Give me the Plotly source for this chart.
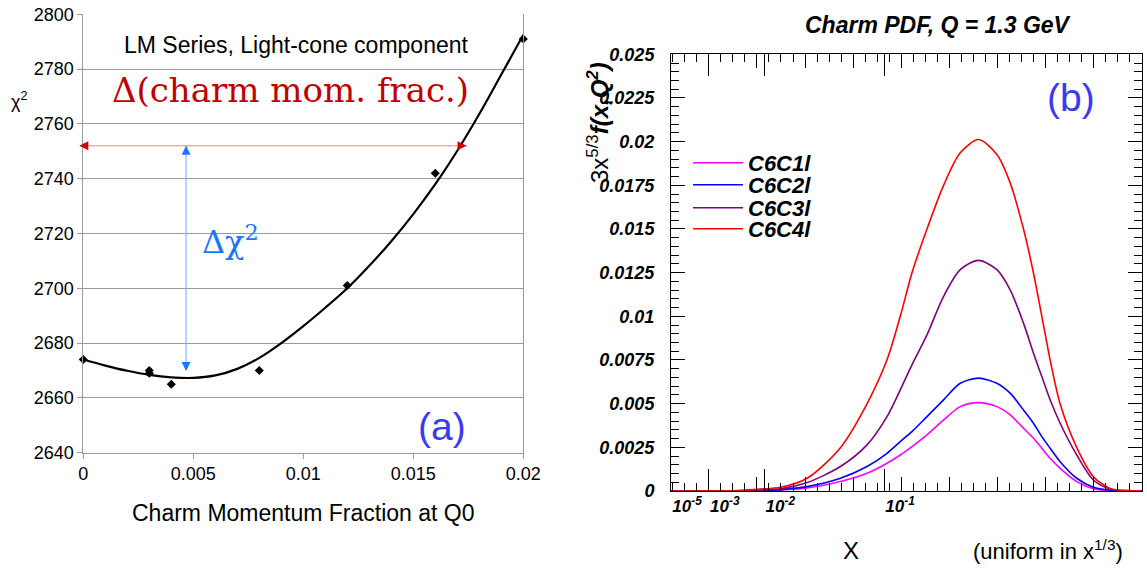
import plotly.graph_objects as go

# ---------------- Panel (a) data ----------------
frac_pts = [0.0, 0.003, 0.003, 0.004, 0.008, 0.012, 0.016, 0.02]
chi2_pts = [2674, 2670, 2669, 2665, 2670, 2701, 2742, 2791]

frac_fit = [0.0, 0.001, 0.002, 0.003, 0.004, 0.005, 0.006, 0.007, 0.008, 0.009, 0.010,
            0.011, 0.012, 0.013, 0.014, 0.015, 0.016, 0.017, 0.018, 0.019, 0.020]
chi2_fit = [2674.0, 2671.8, 2669.9, 2668.4, 2667.5, 2667.3, 2668.2, 2670.6, 2674.6, 2680.0, 2686.2,
            2692.9, 2700.0, 2708.2, 2717.2, 2727.1, 2738.0, 2750.2, 2763.6, 2778.0, 2792.5]

x_ticks_a = [0, 0.005, 0.01, 0.015, 0.02]
x_ticktext_a = ["0", "0.005", "0.01", "0.015", "0.02"]

chi2_level = 2752          # level of the horizontal double arrow
chi2_low = 2669.8          # lower end of the vertical double arrow
frac_arrow_left = -0.0002
frac_arrow_right = 0.01742
frac_vert_arrow = 0.00467

# ---------------- Panel (b) data ----------------
x_pdf = [1e-5, 1e-3, 0.004, 0.00893, 0.0154, 0.0282, 0.0521, 0.0788, 0.104, 0.1234, 0.1423,
         0.1694, 0.2031, 0.2411, 0.2880, 0.3408, 0.3828, 0.4283, 0.4647, 0.4966, 0.5297,
         0.5716, 0.6461, 0.7266, 0.8137, 0.9076, 1.0]
c6c1l = [0, 0, 0, 0.00002, 0.00006, 0.00017, 0.00054, 0.00101, 0.00159, 0.00206, 0.00254,
         0.00321, 0.00407, 0.00483, 0.00506, 0.00483, 0.00436, 0.00359, 0.00302, 0.00245, 0.00187,
         0.0013, 0.00054, 0.00013, 0.00002, 0, 0]
c6c2l = [0, 0, 0, 0.00004, 0.00008, 0.00025, 0.00073, 0.0014, 0.00216, 0.00283, 0.0034,
         0.00426, 0.00522, 0.00617, 0.00646, 0.00617, 0.0056, 0.00464, 0.00388, 0.00311, 0.00245,
         0.00168, 0.00073, 0.00021, 0.00004, 0, 0]
c6c3l = [0, 0, 0.00001, 0.00006, 0.00013, 0.00048, 0.0014, 0.00264, 0.00426, 0.00579, 0.00722,
         0.00894, 0.01114, 0.01267, 0.0132, 0.01267, 0.01152, 0.00961, 0.00789, 0.00655, 0.00522,
         0.00388, 0.00206, 0.00063, 0.00011, 0.00002, 0]
c6c4l = [0, 0, 0.00003, 0.00011, 0.00021, 0.00073, 0.00248, 0.00499, 0.00751, 0.0100, 0.01248,
         0.0150, 0.0175, 0.01936, 0.02012, 0.01926, 0.01764, 0.0150, 0.01248, 0.0100, 0.00751,
         0.00499, 0.00248, 0.00082, 0.00015, 0.00002, 0]
series_names = ["C6C1l", "C6C2l", "C6C3l", "C6C4l"]
series_colors = ["#ff00ff", "#0000ff", "#800080", "#ff0000"]

x_decades = [1e-5, 1e-3, 1e-2, 1e-1, 1.0]
x_decade_text = ["10<sup>-5</sup>", "10<sup>-3</sup>", "10<sup>-2</sup>", "10<sup>-1</sup>", "1"]

# axis is uniform in x^(1/3)
def cube_root(v):
    return [t ** (1.0 / 3.0) for t in v]

W, H = 1147, 569
SANS = "Liberation Sans, Arial, sans-serif"
SERIF = "DejaVu Serif, serif"
BLUE_LBL = "#3a3af2"

def px(x):
    return x / W

def py(y):
    return 1 - y / H

fig = go.Figure()

# panel (a)
fig.add_trace(go.Scatter(x=frac_fit, y=chi2_fit, mode="lines", line=dict(color="black", width=2.2, shape="spline"),
                         xaxis="x", yaxis="y", showlegend=False, hoverinfo="skip"))
fig.add_trace(go.Scatter(x=frac_pts, y=chi2_pts, mode="markers",
                         marker=dict(symbol="diamond", size=7, color="black"),
                         xaxis="x", yaxis="y", showlegend=False, cliponaxis=False))

# panel (b)
u_pdf = cube_root(x_pdf)
legends = ["legend", "legend2", "legend3", "legend4"]
for name, vals, col, lg in zip(series_names, [c6c1l, c6c2l, c6c3l, c6c4l], series_colors, legends):
    fig.add_trace(go.Scatter(x=u_pdf, y=vals, mode="lines", name=name,
                             line=dict(color=col, width=1.6, shape="spline", smoothing=0.8),
                             xaxis="x2", yaxis="y2", legend=lg, showlegend=True))

u_lo = (1e-5) ** (1.0 / 3.0)

legend_py = [163, 185, 208, 229]
leg_common = dict(x=px(688), xanchor="left", yanchor="middle", bgcolor="rgba(0,0,0,0)",
                  borderwidth=0, itemwidth=50,
                  font=dict(family=SANS, size=22, color="black", weight="bold", style="italic"))
layout_legends = {}
for lg, yy in zip(legends, legend_py):
    layout_legends[lg] = dict(y=py(yy), **leg_common)

def ptext(text, x, y, font, **kw):
    return dict(text=text, x=px(x), y=py(y), xref="paper", yref="paper", xanchor="center",
                yanchor="middle", showarrow=False, font=font, **kw)

annotations = [
    dict(text="LM Series, Light-cone component", x=0.00967, y=2788.8, xref="x", yref="y",
         xanchor="center", yanchor="middle",
         showarrow=False, font=dict(family=SANS, size=23, color="black")),
    dict(text="Δ(charm mom. frac.)", x=0.0094, y=2772.4, xref="x", yref="y",
         xanchor="center", yanchor="middle",
         showarrow=False, font=dict(family=SERIF, size=34, color="#c00000")),
    dict(text="Δχ<sup>2</sup>", x=0.00667, y=2717.6, xref="x", yref="y",
         xanchor="center", yanchor="middle",
         showarrow=False, font=dict(family=SERIF, size=32, color="#1a75ff")),
    dict(text="(a)", x=0.0163, y=2649.4, xref="x", yref="y",
         xanchor="center", yanchor="middle",
         showarrow=False, font=dict(family=SANS, size=39, color=BLUE_LBL)),
    ptext("χ<sup>2</sup>", 19, 100, dict(family=SANS, size=18, color="black")),
    ptext("Charm Momentum Fraction at Q0", 303.5, 513, dict(family=SANS, size=23, color="black")),
    # arrows in (a)
    dict(text="", x=frac_arrow_right, y=chi2_level, ax=frac_arrow_left, ay=chi2_level,
         xref="x", yref="y", axref="x", ayref="y", showarrow=True, arrowhead=0,
         arrowwidth=1, arrowcolor="rgb(240,130,130)"),
    dict(text="", x=frac_arrow_right, y=chi2_level, ax=-10, ay=0, xref="x", yref="y",
         showarrow=True, arrowhead=2, arrowsize=1.8, arrowwidth=1, arrowcolor="#d00000"),
    dict(text="", x=0, y=chi2_level, ax=10, ay=0, xref="x", yref="y", xshift=-4,
         showarrow=True, arrowhead=2, arrowsize=1.8, arrowwidth=1, arrowcolor="#d00000"),
    dict(text="", x=frac_vert_arrow, y=chi2_level, ax=frac_vert_arrow, ay=chi2_low,
         xref="x", yref="y", axref="x", ayref="y", showarrow=True, arrowhead=0,
         arrowwidth=1, arrowcolor="rgb(120,170,255)"),
    dict(text="", x=frac_vert_arrow, y=chi2_level, ax=0, ay=10, xref="x", yref="y",
         showarrow=True, arrowhead=2, arrowsize=1.8, arrowwidth=1, arrowcolor="#1a75ff"),
    dict(text="", x=frac_vert_arrow, y=chi2_low, ax=0, ay=-10, xref="x", yref="y",
         showarrow=True, arrowhead=2, arrowsize=1.8, arrowwidth=1, arrowcolor="#1a75ff"),
    # panel (b) texts
    ptext("Charm PDF, Q = 1.3 GeV", 938, 25,
          dict(family=SANS, size=23, color="black", weight="bold", style="italic")),
    ptext("(b)", 1070.5, 98, dict(family=SANS, size=39, color=BLUE_LBL)),
    ptext("X", 851, 550, dict(family=SANS, size=24, color="black")),
    ptext("(uniform in x<sup>1/3</sup>)", 1048, 550, dict(family=SANS, size=22, color="black")),
    ptext("3x<sup>5/3</sup><b><i>f(x,Q<sup>2</sup>)</i></b>", 598, 123,
          dict(family=SANS, size=24, color="black"), textangle=-90),
]

GRAY = "#9a9a9a"
fig.update_layout(
    width=W, height=H, autosize=False,
    margin=dict(l=0, r=0, t=0, b=0, pad=0, autoexpand=False),
    paper_bgcolor="white", plot_bgcolor="white",
    xaxis=dict(domain=[px(83.3), px(523.3)], range=[0, 0.02], anchor="y", automargin=False,
               showgrid=False, zeroline=False, showline=True, linecolor=GRAY, linewidth=1,
               ticks="outside", ticklen=5, tickcolor=GRAY, tickvals=x_ticks_a, ticktext=x_ticktext_a,
               tickfont=dict(family=SANS, size=18, color="black")),
    yaxis=dict(domain=[py(452.7), py(14.3)], range=[2640, 2800], anchor="x", dtick=20, automargin=False,
               showgrid=True, gridcolor=GRAY, gridwidth=1, zeroline=False,
               showline=True, mirror=True, linecolor=GRAY, linewidth=1,
               ticks="outside", ticklen=5, tickcolor=GRAY,
               tickfont=dict(family=SANS, size=18, color="black")),
    xaxis2=dict(domain=[px(671), px(1142)], range=[u_lo, 1], anchor="y2", automargin=False,
                showgrid=False, zeroline=False, showline=True, linecolor="black", linewidth=1,
                mirror="ticks", ticks="inside", ticklen=14, tickcolor="black", tick0=0, dtick=0.1,
                showticklabels=False,
                minor=dict(ticks="inside", ticklen=8, tickcolor="black", dtick=0.025, tick0=0, showgrid=False)),
    xaxis3=dict(overlaying="x2", anchor="y2", range=[u_lo, 1], side="bottom", automargin=False,
                showgrid=False, zeroline=False, showline=True, linecolor="black", linewidth=1,
                mirror="ticks", ticks="inside", ticklen=22, tickcolor="black",
                tickvals=cube_root(x_decades), ticktext=x_decade_text, ticklabelshift=16,
                tickfont=dict(family=SANS, size=17, color="black", weight="bold", style="italic")),
    yaxis2=dict(domain=[py(491), py(54.3)], range=[0, 0.025], anchor="x2", dtick=0.0025, tick0=0,
                automargin=False,
                showgrid=False, zeroline=False, showline=True, linecolor="black", linewidth=1,
                mirror="ticks", ticks="inside", ticklen=14, tickcolor="black",
                ticklabelstandoff=12,
                minor=dict(ticks="inside", ticklen=8, tickcolor="black", dtick=0.0005, tick0=0, showgrid=False),
                tickfont=dict(family=SANS, size=18, color="black", weight="bold", style="italic")),
    annotations=annotations,
    **layout_legends,
)

# an invisible trace on xaxis3 so that the overlay axis is drawn
fig.add_trace(go.Scatter(x=[u_lo], y=[0], xaxis="x3", yaxis="y2", mode="markers",
                         marker=dict(opacity=0), showlegend=False, hoverinfo="skip"))

fig.write_html("out.html", config={"displayModeBar": False},
               post_script="document.body.style.margin='0px';")
